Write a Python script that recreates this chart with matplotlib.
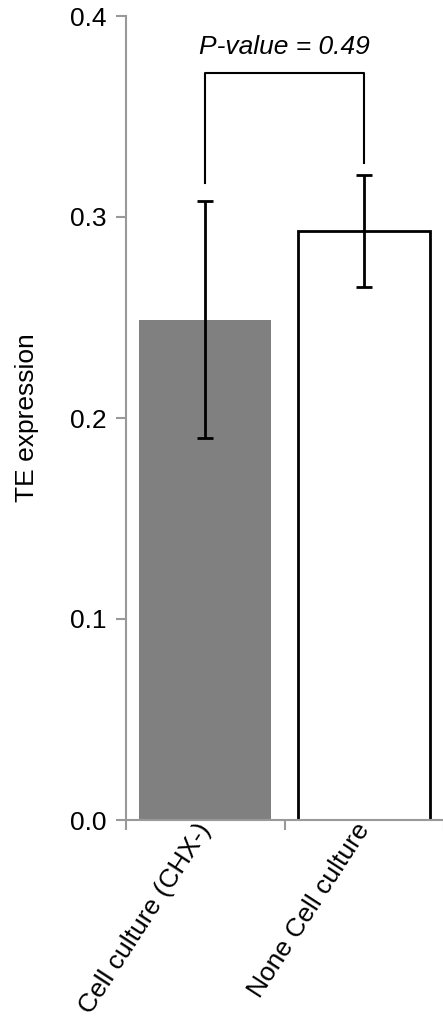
import numpy as np
import matplotlib
matplotlib.use("Agg")
import matplotlib.pyplot as plt

# Values
groups = ['Cell culture (CHX-)', 'None Cell culture']
means = [0.249, 0.293]
err_low = [0.190, 0.265]
err_high = [0.308, 0.321]
bar_colors = ['#808080', 'white']
edge_colors = ['none', 'black']
p_text = 'P-value = 0.49'
bracket_y = 0.3715
bracket_feet = [0.317, 0.327]
y_ticks = [0.0, 0.1, 0.2, 0.3, 0.4]

plt.rcParams['font.family'] = ['Liberation Sans', 'DejaVu Sans']
fs = 19

fig = plt.figure(figsize=(4.43, 10.27), dpi=100)
ax = fig.add_axes([126 / 443, 1 - 820 / 1027, 317.5 / 443, (820 - 16) / 1027])

x = np.arange(len(groups))
means = np.array(means)
yerr = np.vstack([means - np.array(err_low), np.array(err_high) - means])

for i in range(len(groups)):
    ax.bar(x[i], means[i], width=0.83, color=bar_colors[i],
           edgecolor=edge_colors[i], linewidth=2, zorder=2)
ax.errorbar(x, means, yerr=yerr, fmt='none', ecolor='black',
            elinewidth=2, capsize=6, capthick=2, zorder=3)

# significance bracket
ax.plot([x[0], x[0], x[1], x[1]],
        [bracket_feet[0], bracket_y, bracket_y, bracket_feet[1]],
        color='black', linewidth=1.5, zorder=3)
ax.text((x[0] + x[1]) / 2, bracket_y + 0.007, p_text, ha='center',
        va='bottom', fontsize=fs, style='italic')

ax.set_xlim(-0.5, 1.5)
ax.set_ylim(0, 0.4)
ax.set_yticks(y_ticks)
ax.set_yticklabels(['%.1f' % v for v in y_ticks])
ax.set_ylabel('TE expression', fontsize=fs, labelpad=22)

ax.set_xticks([-0.5, 0.5, 1.5])
ax.set_xticklabels([])
ax.set_xticks(x, minor=True)
ax.set_xticklabels(groups, minor=True, rotation=57, ha='right',
                   va='center', rotation_mode='anchor', fontsize=fs)
ax.tick_params(axis='x', which='minor', length=0, pad=4)

for side in ['top', 'right']:
    ax.spines[side].set_visible(False)
for side in ['left', 'bottom']:
    ax.spines[side].set_color('#999999')
    ax.spines[side].set_linewidth(1.5)
ax.tick_params(axis='both', which='major', color='#999999', width=1.5,
               length=7, labelsize=fs)
ax.tick_params(axis='y', pad=7)

fig.savefig('out.png', dpi=100)
